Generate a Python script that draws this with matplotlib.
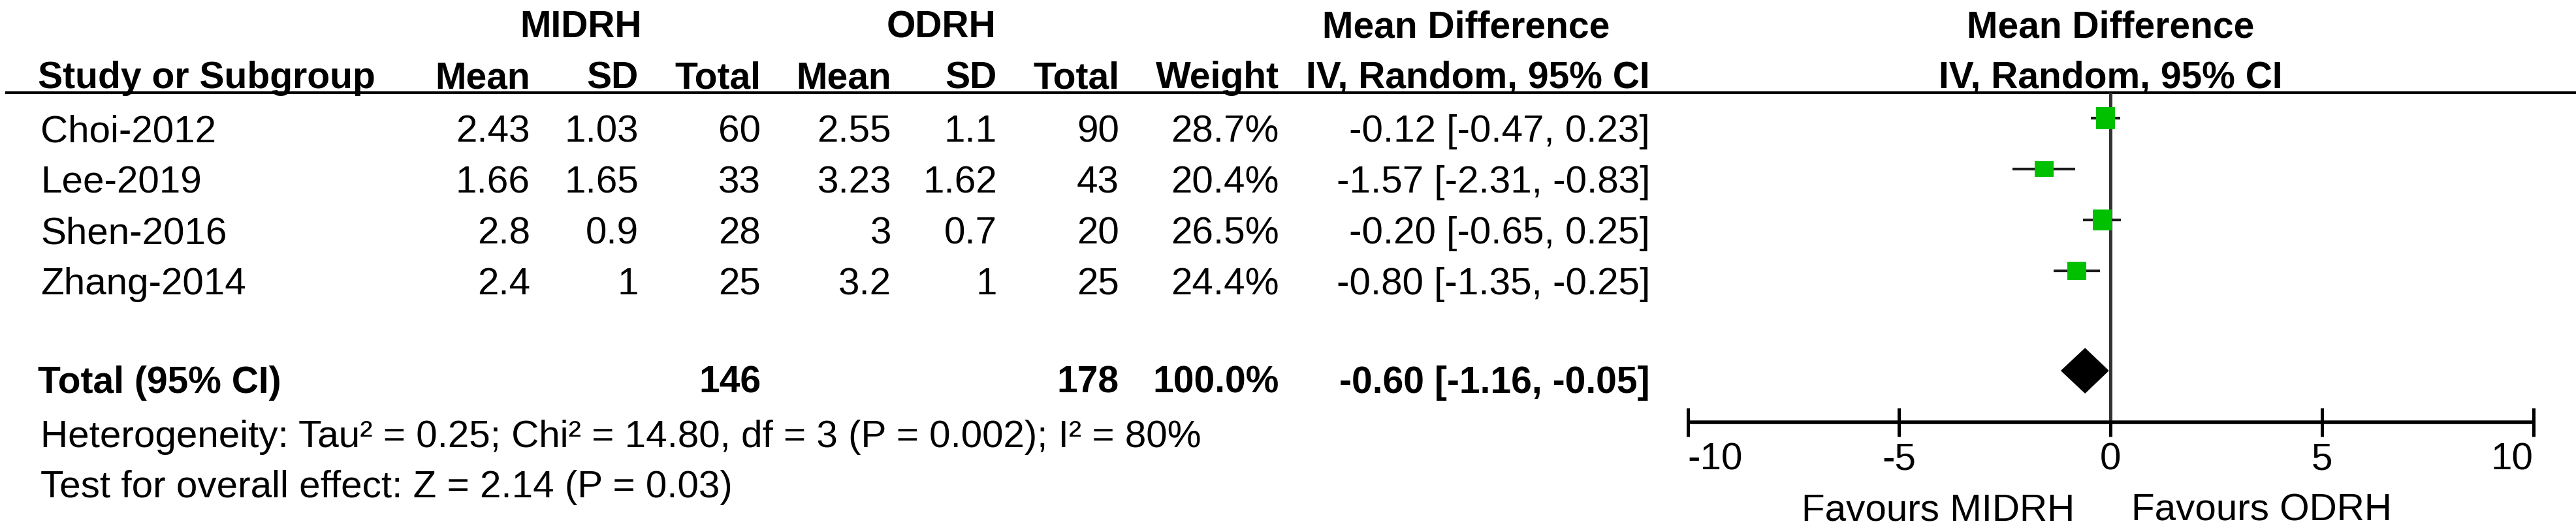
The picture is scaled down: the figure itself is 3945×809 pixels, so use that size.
import matplotlib
matplotlib.use("Agg")
import matplotlib.pyplot as plt
from matplotlib.patches import Rectangle, Polygon

plt.rcParams['font.family'] = ['Liberation Sans', 'DejaVu Sans']

# ---------------- data ----------------
studies = ["Choi-2012", "Lee-2019", "Shen-2016", "Zhang-2014"]
mean_midrh = [2.43, 1.66, 2.8, 2.4]
sd_midrh = [1.03, 1.65, 0.9, 1]
n_midrh = [60, 33, 28, 25]
mean_odrh = [2.55, 3.23, 3, 3.2]
sd_odrh = [1.1, 1.62, 0.7, 1]
n_odrh = [90, 43, 20, 25]
weights = [28.7, 20.4, 26.5, 24.4]
md = [-0.12, -1.57, -0.20, -0.80]
ci_lo = [-0.47, -2.31, -0.65, -1.35]
ci_hi = [0.23, -0.83, 0.25, -0.25]

total_n_midrh = 146
total_n_odrh = 178
total_weight = 100.0
total_md = -0.60
total_lo = -1.16
total_hi = -0.05

heterogeneity = "Heterogeneity: Tau\u00b2 = 0.25; Chi\u00b2 = 14.80, df = 3 (P = 0.002); I\u00b2 = 80%"
overall = "Test for overall effect: Z = 2.14 (P = 0.03)"
xticks = [-10, -5, 0, 5, 10]
favours_left = "Favours MIDRH"
favours_right = "Favours ODRH"

# ---------------- layout ----------------
W, H = 3945, 809
fig = plt.figure(figsize=(W / 100, H / 100), dpi=100)
fig.patch.set_facecolor("white")

FS = 42
FSB = 41
ax = fig.add_axes([0, 0, 1, 1])
ax.set_xlim(0, W)
ax.set_ylim(H, 0)
ax.axis("off")

def t(x, y, s, ha="left", bold=False):
    ax.text(x, y, s, ha=ha, va="baseline", fontsize=FSB if bold else FS,
            fontweight="bold" if bold else "normal", color="black")

# header line
ax.plot([8, W], [142, 142], color="black", lw=3.0, solid_capstyle="butt")

# header row 1
t(890, 57, "MIDRH", "center", True)
t(1441, 57, "ODRH", "center", True)
t(2245, 57, "Mean Difference", "center", True)
t(3232, 57, "Mean Difference", "center", True)

# header row 2
col_r = {"m1": 812, "s1": 978, "n1": 1165, "m2": 1365, "s2": 1527,
         "n2": 1714, "w": 1959, "ci": 2527}
t(58, 135, "Study or Subgroup", "left", True)
t(col_r["m1"], 135, "Mean", "right", True)
t(col_r["s1"], 135, "SD", "right", True)
t(col_r["n1"], 135, "Total", "right", True)
t(col_r["m2"], 135, "Mean", "right", True)
t(col_r["s2"], 135, "SD", "right", True)
t(col_r["n2"], 135, "Total", "right", True)
t(col_r["w"], 135, "Weight", "right", True)
t(col_r["ci"], 135, "IV, Random, 95% CI", "right", True)
t(3232, 135, "IV, Random, 95% CI", "center", True)

row0, step = 217, 78
baselines = [row0 + i * step for i in range(len(studies))]
for i, name in enumerate(studies):
    y = baselines[i]
    t(62, y, name)
    t(col_r["m1"], y, f"{mean_midrh[i]:g}", "right")
    t(col_r["s1"], y, f"{sd_midrh[i]:g}", "right")
    t(col_r["n1"], y, f"{n_midrh[i]}", "right")
    t(col_r["m2"], y, f"{mean_odrh[i]:g}", "right")
    t(col_r["s2"], y, f"{sd_odrh[i]:g}", "right")
    t(col_r["n2"], y, f"{n_odrh[i]}", "right")
    t(col_r["w"], y, f"{weights[i]:.1f}%", "right")
    t(col_r["ci"], y, f"{md[i]:.2f} [{ci_lo[i]:.2f}, {ci_hi[i]:.2f}]", "right")

ty = 602
t(58, ty, "Total (95% CI)", "left", True)
t(col_r["n1"], ty, f"{total_n_midrh}", "right", True)
t(col_r["n2"], ty, f"{total_n_odrh}", "right", True)
t(col_r["w"], ty, f"{total_weight:.1f}%", "right", True)
t(col_r["ci"], ty, f"{total_md:.2f} [{total_lo:.2f}, {total_hi:.2f}]", "right", True)

t(62, 685, heterogeneity)
t(62, 762, overall)

# ---------------- forest axes ----------------
x0, x1 = 2584.5, 3879.5
axf = fig.add_axes([x0 / W, 0, (x1 - x0) / W, 1])
axf.set_xlim(-10, 10)
axf.set_ylim(H, 0)
axf.patch.set_alpha(0)
for s in ["top", "left", "right"]:
    axf.spines[s].set_visible(False)
axf.spines["bottom"].set_position(("data", 647))
axf.spines["bottom"].set_linewidth(4.0)
axf.spines["bottom"].set_capstyle("butt")
axf.set_yticks([])
axf.set_xticks(xticks)
axf.set_xticklabels([f"{v:g}" for v in xticks], fontsize=FS)
axf.tick_params(axis="x", direction="inout", length=31.7, width=3.6, pad=6)
labs = axf.get_xticklabels()
labs[0].set_ha("left")
labs[-1].set_ha("right")

px = (x1 - x0) / 20.0  # pixels per unit

# zero line
axf.plot([0, 0], [142, 647], color="#333333", lw=3.6, solid_capstyle="butt")

green = "#00C000"
for i in range(len(studies)):
    yc = baselines[i] - 36
    axf.plot([ci_lo[i], ci_hi[i]], [yc, yc], color="#1a1a1a", lw=3.0,
             solid_capstyle="butt", zorder=3)
    h = weights[i] * 1.18
    w = 29 / px
    axf.add_patch(Rectangle((md[i] - w / 2, yc - h / 2), w, h,
                            facecolor=green, edgecolor="none", zorder=4))

dy = ty - 34
axf.add_patch(Polygon([(total_lo, dy), (total_md, dy - 34), (total_hi, dy),
                       (total_md, dy + 34)], closed=True,
                      facecolor="black", edgecolor="black", zorder=4))

axf.text(-0.85, 797, favours_left, ha="right", va="baseline", fontsize=FS)
axf.text(0.5, 797, favours_right, ha="left", va="baseline", fontsize=FS)

fig.savefig("out.png", dpi=100, facecolor="white")
